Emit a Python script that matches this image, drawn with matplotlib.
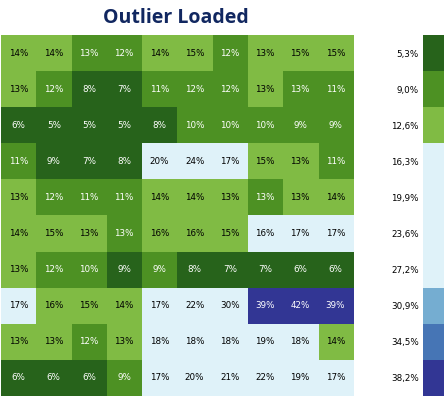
import numpy as np
import matplotlib
matplotlib.use("Agg")
import matplotlib.pyplot as plt
from matplotlib.colors import ListedColormap, BoundaryNorm

title = "Outlier Loaded"
values = [
    [14, 14, 12.55, 12, 14, 15, 12, 13, 15, 15],
    [13, 12, 8, 7, 11, 12, 12, 13, 12.55, 11],
    [6, 5.3, 5.4, 5.4, 8, 10, 10, 10, 9.2, 9.3],
    [11, 8.7, 7, 8, 20, 24, 17, 15, 13, 11],
    [13, 12, 11, 11, 14, 14, 13, 12.55, 13, 14],
    [14, 15, 13, 12.55, 15.8, 15.9, 15, 16.4, 17, 17],
    [13, 12, 10, 8.8, 9.2, 8, 7, 7, 6, 6],
    [17, 16, 15, 14, 17, 22, 30, 39, 42, 39],
    [13, 13, 12, 13, 18, 18, 18, 19, 18, 14],
    [6, 6, 6, 9.1, 17, 20, 21, 22, 19, 17],
]
legend_levels = [5.3, 9.0, 12.6, 16.3, 19.9, 23.6, 27.2, 30.9, 34.5, 38.2]
legend_labels = ["5,3%", "9,0%", "12,6%", "16,3%", "19,9%", "23,6%", "27,2%", "30,9%", "34,5%", "38,2%"]
level_colors = ["#27631b", "#4d9123", "#80bb44", "#dff2f9", "#dff2f9",
                "#dff2f9", "#dff2f9", "#75add1", "#4675b5", "#323694"]
dark_levels = {0, 1, 9, 8}

data = np.array(values)
bounds = legend_levels + [45.0]
cmap = ListedColormap(level_colors)
norm = BoundaryNorm(bounds, cmap.N)

fig = plt.figure(figsize=(4.44, 3.96), dpi=100)
ax = fig.add_axes([1/444, 0, 352/444, 1 - 35/396])
ax.imshow(data, cmap=cmap, norm=norm, aspect="auto", interpolation="nearest")
for i in range(data.shape[0]):
    for j in range(data.shape[1]):
        v = data[i, j]
        lvl = int(np.searchsorted(legend_levels, v, side="right") - 1)
        col = "white" if lvl in dark_levels else "black"
        ax.text(j, i, f"{int(v + 0.5)}%", ha="center", va="center", fontsize=6.3, color=col)
ax.set_axis_off()

fig.text(176/444, 1 - 18/396, title, ha="center", va="center", fontsize=14,
         fontweight="bold", color="#112760", family="Open Sans")

cax = fig.add_axes([423/444, 0, 21/444, 1 - 35/396])
cax.imshow(np.array(legend_levels).reshape(-1, 1), cmap=cmap, norm=norm,
           aspect="auto", interpolation="nearest")
cax.set_xticks([])
cax.set_yticks(range(len(legend_labels)))
cax.set_yticklabels(legend_labels, fontsize=6.3)
cax.tick_params(axis="y", length=0, pad=3)
for s in cax.spines.values():
    s.set_visible(False)

fig.savefig("out.png", dpi=100)
